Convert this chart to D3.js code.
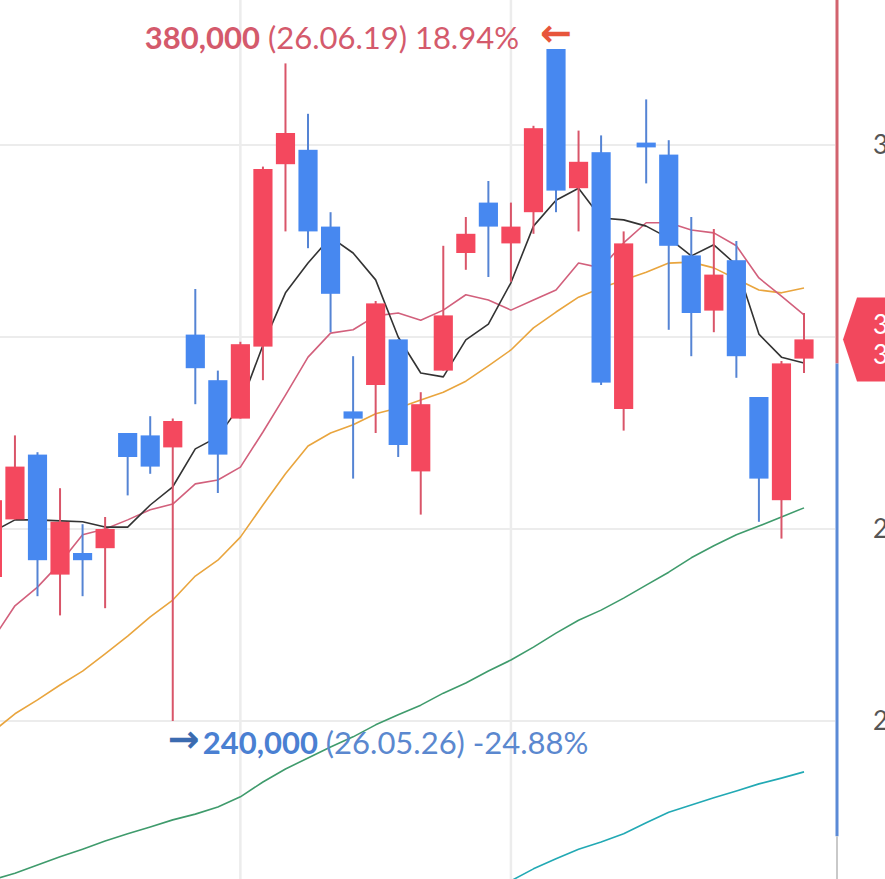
<!DOCTYPE html>
<html>
<head>
<meta charset="utf-8">
<script src="https://cdn.jsdelivr.net/npm/d3@7"></script>
<style>
  body { margin: 0; background: #fff; }
  svg { display: block; font-family: Lato, "Noto Sans", sans-serif; }
</style>
</head>
<body>
<div id="chart"></div>
<script>
// daily candles (trading days)
const dates = [
    "2026-05-13", "2026-05-14", "2026-05-15", "2026-05-18", "2026-05-19", "2026-05-20", "2026-05-21", "2026-05-22",
    "2026-05-26", "2026-05-27", "2026-05-28", "2026-05-29", "2026-06-01", "2026-06-02", "2026-06-04", "2026-06-05",
    "2026-06-08", "2026-06-09", "2026-06-10", "2026-06-11", "2026-06-12", "2026-06-15", "2026-06-16", "2026-06-17",
    "2026-06-18", "2026-06-19", "2026-06-22", "2026-06-23", "2026-06-24", "2026-06-25", "2026-06-26", "2026-06-29",
    "2026-06-30", "2026-07-01", "2026-07-02", "2026-07-03", "2026-07-06"
];
const open = [270000, 282000, 295500, 270500, 275000, 276000, 300000, 299500, 297000, 320500, 311000, 303000,
    318000, 356000, 359000, 343000, 304500, 310000, 319500, 292000, 313000, 337500, 348000, 339500,
    346000, 380000, 351000, 358500, 305000, 360500, 358000, 337000, 325500, 336000, 307500, 286000, 315500];
const high = [288000, 299500, 296000, 288500, 281000, 282500, 300000, 303500, 303000, 330000, 313000, 319000,
    355500, 377000, 366500, 346000, 316000, 327500, 319500, 308500, 339000, 345000, 352500, 348000,
    364000, 380000, 363000, 362000, 342000, 369500, 361000, 345000, 342500, 340000, 307500, 315000, 325000];
const low = [268000, 282000, 266000, 262000, 266000, 263500, 287000, 291500, 240000, 306000, 287500, 303000,
    311000, 342000, 338500, 321000, 290500, 300000, 295000, 283000, 313000, 334000, 332500, 331500,
    341500, 346000, 342000, 310000, 300500, 352000, 321500, 316000, 321000, 311500, 281500, 278000, 312500];
const close = [286000, 293000, 273500, 281500, 273500, 280000, 295000, 293000, 302500, 313500, 295500, 318500,
    355000, 362500, 342000, 329000, 303000, 327000, 297500, 306000, 324500, 341500, 343000, 343000,
    363500, 350500, 356500, 310500, 339500, 359500, 339000, 325000, 333000, 316000, 290500, 314500, 319500];

// moving averages
const ma5 = [279400, 281900, 281900, 281700, 281500, 280400, 280400, 285000, 288800, 296700, 299200, 305800,
    318300, 329200, 335400, 340800, 337500, 331900, 320000, 312500, 311700, 319400, 322700, 331300,
    343100, 348500, 351000, 344800, 344400, 343100, 340600, 336900, 339200, 335000, 320600, 315800, 314600];
const ma10 = [256900, 264000, 267900, 272900, 278800, 280000, 281900, 284000, 285200, 289400, 290200, 292900,
    300200, 307900, 315800, 320800, 321500, 324400, 325000, 323500, 325600, 328800, 327700, 325600,
    327700, 329800, 335400, 334400, 339600, 343800, 343800, 342300, 341700, 339000, 332300, 328500, 324600];
const ma20 = [237700, 241500, 244400, 247500, 250400, 254000, 257700, 261700, 265200, 270200, 273500, 278300,
    285000, 291500, 297300, 300000, 301700, 304000, 305200, 306900, 308500, 310800, 314000, 317300,
    321900, 325200, 328300, 330200, 331900, 333500, 335400, 335600, 334400, 332100, 329800, 329200, 330200];
const ma60 = [206900, 208300, 210000, 211700, 213300, 215000, 216500, 217900, 219400, 220600, 222100, 224200,
    227300, 230000, 232300, 234600, 236700, 239200, 241300, 243300, 245800, 247900, 250400, 252700,
    255400, 258300, 261000, 263100, 265600, 268300, 271000, 274000, 276500, 278800, 280600, 282500, 284400];
const ma120 = [null, null, null, null, null, null, null, null, null, null, null, null,
    null, null, null, null, null, null, null, null, null, null, 204600, 206700,
    209200, 211300, 213300, 214800, 216500, 218800, 221000, 222500, 224000, 225400, 226900, 228100, 229400];

const yTicks = [240000, 280000, 320000, 360000];
const gridDates = ["2026-05-29", "2026-06-17"];
const prevClose = 314500;   // axis line turns from red to blue here
const axisFloor = 216000;   // blue part of the axis line ends here

const width = 885, height = 879;
const svg = d3.select('#chart')
    .append('svg')
    .attr('width', width)
    .attr('height', height);

// scales
const x = d3.scalePoint()
    .domain(dates)
    .range([-7.6, 804]);
const y = d3.scaleLinear()
    .domain([240000, 360000])
    .range([721, 145]);
const bodyW = x.step() * 0.85;
const axisX = 837;

// grid
svg.append('g')
    .selectAll('line')
    .data(yTicks)
    .enter()
    .append('line')
        .attr('x1', 0)
        .attr('x2', axisX - 2)
        .attr('y1', d => y(d))
        .attr('y2', d => y(d))
        .attr('stroke', '#ececec')
        .attr('stroke-width', 2);
svg.append('g')
    .selectAll('line')
    .data(gridDates)
    .enter()
    .append('line')
        .attr('x1', d => x(d))
        .attr('x2', d => x(d))
        .attr('y1', 0)
        .attr('y2', height)
        .attr('stroke', '#ececec')
        .attr('stroke-width', 2.5);

// moving average lines (under the candles)
const maSeries = [
    {values: ma120, color: '#22a9b4'},
    {values: ma60, color: '#3f9b6c'},
    {values: ma20, color: '#e9a53e'},
    {values: ma10, color: '#d2607c'},
    {values: ma5, color: '#333333'}
];
const line = d3.line()
    .defined(d => d.v != null)
    .x(d => x(d.date))
    .y(d => y(d.v));
svg.append('g')
    .selectAll('path')
    .data(maSeries)
    .enter()
    .append('path')
        .attr('d', s => line(s.values.map((v, i) => ({date: dates[i], v: v}))))
        .attr('fill', 'none')
        .attr('stroke', s => s.color)
        .attr('stroke-width', 1.6)
        .attr('stroke-linejoin', 'round');

// candles
const candles = dates.map((d, i) => ({date: d, o: open[i], h: high[i], l: low[i], c: close[i]}));
const up = d => d.c >= d.o;

svg.append('g')
    .selectAll('line')
    .data(candles)
    .enter()
    .append('line')
        .attr('x1', d => x(d.date))
        .attr('x2', d => x(d.date))
        .attr('y1', d => y(d.h))
        .attr('y2', d => y(d.l))
        .attr('stroke', d => up(d) ? '#d95569' : '#5584d4')
        .attr('stroke-width', 2);
svg.append('g')
    .selectAll('rect')
    .data(candles)
    .enter()
    .append('rect')
        .attr('x', d => x(d.date) - bodyW / 2)
        .attr('y', d => y(Math.max(d.o, d.c)))
        .attr('width', bodyW)
        .attr('height', d => Math.max(Math.abs(y(d.o) - y(d.c)), 3))
        .attr('fill', d => up(d) ? '#f4485e' : '#4788f0');

// high / low annotations
const last = close[close.length - 1];
const hiIdx = d3.maxIndex(high), loIdx = d3.minIndex(low);
const fmt = d3.format(',');
const fmtDate = d => d3.timeFormat('%y.%m.%d')(d3.timeParse('%Y-%m-%d')(d));
const pct = v => ((v / last - 1) * 100).toFixed(2) + '%';

const hiText = svg.append('text')
    .attr('x', x(dates[hiIdx]) - 37)
    .attr('y', y(high[hiIdx]))
    .attr('text-anchor', 'end')
    .attr('font-size', 31)
    .attr('fill', '#d45a6c');
hiText.append('tspan').attr('font-weight', 'bold').text(fmt(high[hiIdx]));
hiText.append('tspan').text(` (${fmtDate(dates[hiIdx])}) ${pct(high[hiIdx])}`);
svg.append('text')
    .attr('x', x(dates[hiIdx]))
    .attr('y', y(high[hiIdx]) - 3)
    .attr('text-anchor', 'middle')
    .attr('font-family', 'DejaVu Sans')
    .attr('font-weight', 'bold')
    .attr('font-size', 38)
    .attr('fill', '#e7553b')
    .text('←');

svg.append('text')
    .attr('x', x(dates[loIdx]) + 11)
    .attr('y', y(low[loIdx]) + 31)
    .attr('text-anchor', 'middle')
    .attr('font-family', 'DejaVu Sans')
    .attr('font-weight', 'bold')
    .attr('font-size', 38)
    .attr('fill', '#3b6bb0')
    .text('→');
const loText = svg.append('text')
    .attr('x', x(dates[loIdx]) + 30)
    .attr('y', y(low[loIdx]) + 33)
    .attr('font-size', 31)
    .attr('fill', '#5b88cf');
loText.append('tspan').attr('font-weight', 'bold').attr('fill', '#4a80d2').text(fmt(low[loIdx]));
loText.append('tspan').text(` (${fmtDate(dates[loIdx])}) ${pct(low[loIdx])}`);

// right axis line: red above previous close, blue below
svg.append('line')
    .attr('x1', axisX).attr('x2', axisX)
    .attr('y1', 0).attr('y2', y(prevClose))
    .attr('stroke', '#d2636e').attr('stroke-width', 3);
svg.append('line')
    .attr('x1', axisX).attr('x2', axisX)
    .attr('y1', y(prevClose)).attr('y2', y(axisFloor))
    .attr('stroke', '#5b8ad6').attr('stroke-width', 3);
svg.append('line')
    .attr('x1', axisX).attr('x2', axisX)
    .attr('y1', y(axisFloor)).attr('y2', height)
    .attr('stroke', '#c9c9c9').attr('stroke-width', 2);

// right axis labels
const yAxis = svg.append('g')
    .attr('transform', `translate(${axisX}, 0)`)
    .call(d3.axisRight(y).tickValues(yTicks).tickSize(0).tickPadding(36).tickFormat(fmt));
yAxis.select('.domain').remove();
yAxis.selectAll('text')
    .attr('font-family', 'Lato, sans-serif')
    .attr('font-size', 26)
    .attr('fill', '#555');

// current price tag
const yc = y(last);
svg.append('path')
    .attr('d', `M843,${yc} L857,${yc - 42} L${width + 10},${yc - 42} L${width + 10},${yc + 42} L857,${yc + 42} Z`)
    .attr('fill', '#f2485d');
svg.append('text')
    .attr('x', 873)
    .attr('y', yc - 5)
    .attr('font-size', 26)
    .attr('fill', '#fff')
    .text(fmt(last));
svg.append('text')
    .attr('x', 873)
    .attr('y', yc + 25)
    .attr('font-size', 26)
    .attr('fill', '#fff')
    .text(pct(last * 1.0314));
</script>
</body>
</html>
